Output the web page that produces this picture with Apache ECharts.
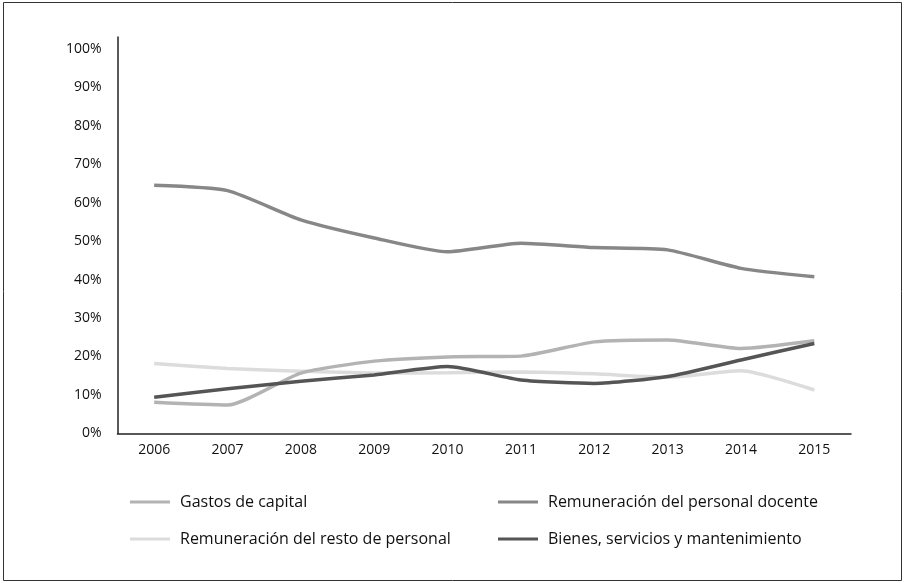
<!DOCTYPE html>
<html>
<head>
<meta charset="utf-8">
<script src="https://cdn.jsdelivr.net/npm/echarts@6/dist/echarts.min.js"></script>
<style>
html,body{margin:0;padding:0;background:#fff;}
#chart{width:905px;height:583px;}
</style>
</head>
<body>
<div id="chart"></div>
<script>
const years = ['2006','2007','2008','2009','2010','2011','2012','2013','2014','2015'];
const gastosCapital = [8.1, 7.4, 15.7, 18.8, 19.9, 20.1, 23.8, 24.3, 22.1, 24.1];
const personalDocente = [64.5, 63.1, 55.5, 50.8, 47.2, 49.4, 48.3, 47.7, 42.9, 40.7];
const restoPersonal = [18.2, 16.9, 16.2, 15.7, 15.8, 16.0, 15.5, 14.6, 16.3, 11.3];
const bienesServicios = [9.4, 11.6, 13.6, 15.2, 17.4, 13.9, 13.0, 14.8, 19.1, 23.4];

const names = ['Gastos de capital', 'Remuneración del personal docente', 'Remuneración del resto de personal', 'Bienes, servicios y mantenimiento'];
const colors = ['#b3b3b3', '#878787', '#dcdcdc', '#555555'];
const seriesData = [gastosCapital, personalDocente, restoPersonal, bienesServicios];

const font = '"Open Sans", "Noto Sans", sans-serif';
const chart = echarts.init(document.getElementById('chart'), null, {renderer: 'canvas'});

const series = seriesData.map((d, i) => ({
  name: names[i],
  type: 'line',
  data: d,
  smooth: 0.2,
  symbol: 'none',
  lineStyle: {color: colors[i], width: 3.5},
  itemStyle: {color: colors[i]},
  z: [2, 3, 1, 4][i]
}));

const legendCommon = {
  orient: 'vertical',
  icon: 'rect',
  itemWidth: 40,
  itemHeight: 3,
  itemGap: 21,
  textStyle: {fontFamily: font, fontSize: 16, color: '#111', padding: [0, 0, 0, 5]},
  top: 489
};

chart.setOption({
  animation: false,
  backgroundColor: '#fff',
  graphic: [{
    type: 'rect',
    shape: {x: 3.5, y: 2.5, width: 898, height: 578},
    style: {fill: 'none', stroke: '#333', lineWidth: 1},
    silent: true
  }],
  grid: {left: 117.5, right: 54, top: 37, bottom: 149.5, containLabel: false},
  legend: [
    Object.assign({}, legendCommon, {left: 125, data: [names[0], names[2]]}),
    Object.assign({}, legendCommon, {left: 493, data: [names[1], names[3]]})
  ],
  xAxis: {
    type: 'category',
    data: years,
    boundaryGap: true,
    axisLine: {show: true, lineStyle: {color: '#222', width: 1.5}},
    axisTick: {show: false},
    axisLabel: {fontFamily: font, fontSize: 14, color: '#111', margin: 10},
    splitLine: {show: false}
  },
  yAxis: {
    type: 'value',
    min: 0,
    max: 103,
    interval: 10,
    axisLine: {show: true, lineStyle: {color: '#222', width: 1.5}},
    axisTick: {show: false},
    splitLine: {show: false},
    axisLabel: {
      fontFamily: font, fontSize: 14, color: '#111', margin: 16,
      formatter: v => (v > 100 ? '' : v + '%')
    }
  },
  series: series
});
</script>
</body>
</html>
